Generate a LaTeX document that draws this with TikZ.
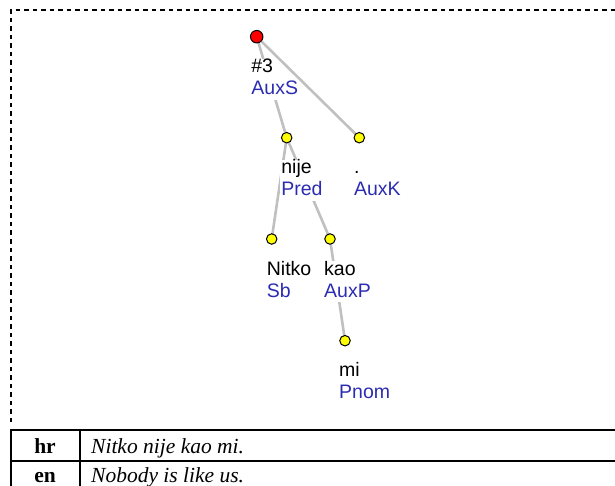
\documentclass[tikz,border=0pt]{standalone}
\usepackage{fontspec}
\setmainfont{Liberation Serif}
\newfontfamily\treefont{Liberation Sans}
\pgfdeclarelayer{edges}
\pgfsetlayers{edges,main}
\definecolor{afuncol}{RGB}{44,44,178}
\definecolor{edgecol}{RGB}{192,192,192}
\definecolor{rootcol}{RGB}{255,0,0}
\definecolor{leafcol}{RGB}{255,255,0}
\tikzset{
  rootdot/.style={circle, draw=black, line width=1pt, fill=rootcol, minimum size=12.5pt, inner sep=0pt},
  tokdot/.style={circle, draw=black, line width=1pt, fill=leafcol, minimum size=10.5pt, inner sep=0pt},
  dep/.style={draw=edgecol, line width=2.6pt},
  formlbl/.style={anchor=base west, fill=white, inner xsep=1pt, inner ysep=0pt,
    text height=14pt, text depth=8pt, font=\treefont\fontsize{19.5}{22}\selectfont, text=black},
  afunlbl/.style={anchor=base west, fill=white, inner xsep=1pt, inner ysep=0pt,
    text height=14pt, text depth=5pt, font=\treefont\fontsize{19.5}{22}\selectfont, text=afuncol},
  tabline/.style={line width=2pt, draw=black},
  langlbl/.style={anchor=base, inner sep=0pt, font=\fontsize{21.5}{24}\selectfont\bfseries},
  sentlbl/.style={anchor=base west, inner sep=0pt, font=\fontsize{21.5}{24}\selectfont\itshape}
}
\begin{document}
\begin{tikzpicture}[x=1pt,y=-1pt]
\useasboundingbox (0,0) rectangle (615,486);
\clip (0,0) rectangle (615,486);

% dashed frame of the tree view
\draw[line width=2pt, dash pattern=on 4.5pt off 4pt] (10.5,422) -- (10.5,10.5) -- (620,10.5);

% tree nodes
\node[rootdot] (r)   at (256.7,36.7) {};
\node[tokdot]  (nije) at (286.7,137.7) {};
\node[tokdot]  (pt)  at (359.3,137.7) {};
\node[tokdot]  (nitko) at (271.7,239) {};
\node[tokdot]  (kao) at (330,239) {};
\node[tokdot]  (mi)  at (345,340.7) {};

% dependency edges
\begin{pgfonlayer}{edges}
\draw[dep] (r.center) -- (nije.center);
\draw[dep] (r.center) -- (pt.center);
\draw[dep] (nije.center) -- (nitko.center);
\draw[dep] (nije.center) -- (kao.center);
\draw[dep] (kao.center) -- (mi.center);
\end{pgfonlayer}

% labels: word form and analytical function
\node[formlbl] (rf)  at ([xshift=-6.5pt,yshift=-36pt]r.center) {\#3};
\node[afunlbl] (ra)  at ([xshift=-6.5pt,yshift=-58pt]r.center) {AuxS};
\node[formlbl] (nf)  at ([xshift=-6.5pt,yshift=-36pt]nije.center) {nije};
\node[afunlbl] (na)  at ([xshift=-6.5pt,yshift=-58pt]nije.center) {Pred};
\node[formlbl] (pf)  at ([xshift=-6.5pt,yshift=-36pt]pt.center) {.};
\node[afunlbl] (pa)  at ([xshift=-6.5pt,yshift=-58pt]pt.center) {AuxK};
\node[formlbl] (tf)  at ([xshift=-6pt,yshift=-36pt]nitko.center) {Nitko};
\node[afunlbl] (ta)  at ([xshift=-6pt,yshift=-58pt]nitko.center) {Sb};
\node[formlbl] (kf)  at ([xshift=-7pt,yshift=-36pt]kao.center) {kao};
\node[afunlbl] (ka)  at ([xshift=-7pt,yshift=-58pt]kao.center) {AuxP};
\node[formlbl] (mf)  at ([xshift=-7pt,yshift=-36pt]mi.center) {mi};
\node[afunlbl] (ma)  at ([xshift=-7pt,yshift=-58pt]mi.center) {Pnom};

% sentence table
\draw[tabline] (630,430) -- (10.5,430) -- (10.5,500);
\draw[tabline] (10.5,460.5) -- (630,460.5);
\draw[tabline] (80,430) -- (80,500);
\node[langlbl] (hr) at (45,453) {hr};
\node[langlbl] (en) at (45,482.5) {en};
\node[sentlbl] (hrs) at (91,453) {Nitko nije kao mi.};
\node[sentlbl] (ens) at (91,482.5) {Nobody is like us.};
\end{tikzpicture}
\end{document}
